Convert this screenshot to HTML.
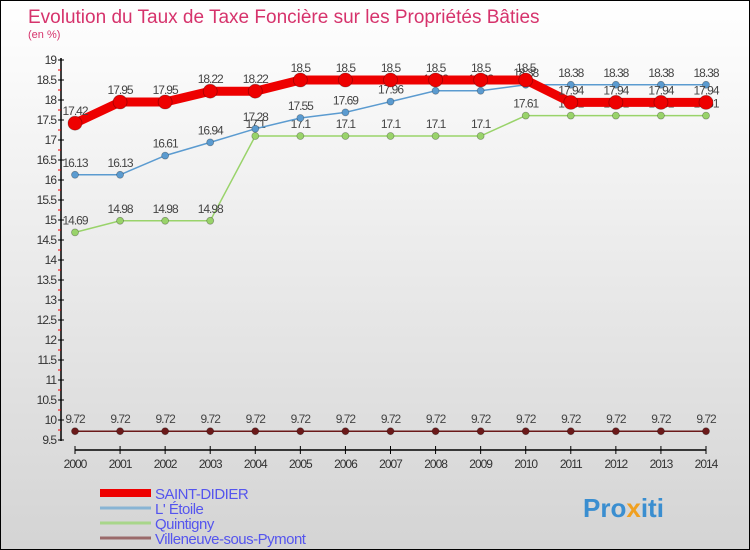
<!DOCTYPE html>
<html><head><meta charset="utf-8"><style>
body{margin:0}
#c{width:750px;height:550px;position:relative;overflow:hidden;background:linear-gradient(#ffffff,#d4d4d4);box-sizing:border-box;border:1px solid #000;font-family:"Liberation Sans",sans-serif}
svg text{font-family:"Liberation Sans",sans-serif}
</style></head><body>
<div id="c">
<svg id="s" width="750" height="550" style="position:absolute;left:-1px;top:-1px">
<text x="28" y="23" font-size="19" fill="#d6336c">Evolution du Taux de Taxe Foncière sur les Propriétés Bâties</text>
<text x="28" y="38" font-size="11" fill="#d6336c">(en %)</text>
</svg>
</div>
<script>
const years=[2000,2001,2002,2003,2004,2005,2006,2007,2008,2009,2010,2011,2012,2013,2014];
const saint=[17.42,17.95,17.95,18.22,18.22,18.5,18.5,18.5,18.5,18.5,18.5,17.94,17.94,17.94,17.94];
const etoile=[16.13,16.13,16.61,16.94,17.28,17.55,17.69,17.96,18.23,18.23,18.38,18.38,18.38,18.38,18.38];
const quint=[14.69,14.98,14.98,14.98,17.1,17.1,17.1,17.1,17.1,17.1,17.61,17.61,17.61,17.61,17.61];
const ville=[9.72,9.72,9.72,9.72,9.72,9.72,9.72,9.72,9.72,9.72,9.72,9.72,9.72,9.72,9.72];
const yMin=9.5,yMax=19;
const svg=document.getElementById('s');const NS='http://www.w3.org/2000/svg';
const X=i=>75+i*(706-75)/(years.length-1);
const Y=v=>440-(v-yMin)*(440-60)/(yMax-yMin);
function mk(t,a,p){const e=document.createElementNS(NS,t);for(const k in a)e.setAttribute(k,a[k]);(p||svg).appendChild(e);return e;}
let ax=mk('line',{x1:61,y1:58,x2:61,y2:441,stroke:'#000','stroke-width':1.5});


for(let v=yMin;v<=yMax+0.001;v+=0.5){
 const y=Y(v);
 mk('line',{x1:58,y1:y,x2:64,y2:y,stroke:'#000'});
 const t=mk('text',{x:56,y:y+4,'font-size':12,'text-anchor':'end',fill:'#333','letter-spacing':'-1'});
 t.textContent=String(+v.toFixed(1));
 
 
 if(v<yMax) mk('line',{x1:58,y1:Y(v+0.25),x2:61,y2:Y(v+0.25),stroke:'#e00'});
}
let xa=mk('line',{x1:75,y1:450,x2:706,y2:450,stroke:'#000','stroke-width':1.5});


years.forEach((yr,i)=>{
 mk('line',{x1:X(i),y1:446,x2:X(i),y2:454,stroke:'#000'});
 const t=mk('text',{x:X(i),y:468,'font-size':12,'text-anchor':'middle',fill:'#333','letter-spacing':'-1'});
 t.textContent=yr;
 
 
});
function series(d,col,w,r,name){
 const g=mk('g',{});
 
 
 mk('polyline',{points:d.map((v,i)=>X(i)+','+Y(v)).join(' '),fill:'none',stroke:col,'stroke-width':w},g);
 d.forEach((v,i)=>{
  const c=mk('circle',{cx:X(i),cy:Y(v),r:r,fill:col,stroke:'rgba(0,0,0,0.3)','stroke-width':0.8},g);
  
  
  const t=mk('text',{x:X(i),y:Y(v)-8,'font-size':12,'text-anchor':'middle',fill:'#444','letter-spacing':'-1'},g);
  t.textContent=String(v);
  
  
 });
}
series(ville,'#6b1a1a',1.5,3.5,'series-villeneuve');
series(quint,'#99d36a',1.5,3.5,'series-quintigny');
series(etoile,'#5b9bd0',1.5,3.5,'series-etoile');
series(saint,'#ee0000',9,7,'series-saint-didier');
const leg=[['SAINT-DIDIER','#ee0000',8],["L' Étoile",'#88b4d4',3],['Quintigny','#a8d68a',3],['Villeneuve-sous-Pymont','#9a6a6a',3]];
leg.forEach((l,i)=>{
 const y=493+i*15;
 const g=mk('g',{});
 
 
 mk('line',{x1:100,y1:y,x2:151,y2:y,stroke:l[1],'stroke-width':l[2]},g);
 const t=mk('text',{x:155,y:y+6,'font-size':15,fill:'#5555ee','letter-spacing':'-0.5'},g);
 t.textContent=l[0];
});
const lg=mk('text',{x:583,y:517,'font-size':26,'font-weight':'bold',fill:'#3a8ed0'});


lg.innerHTML='Pro<tspan fill="#f0a020">x</tspan>iti';
</script>
</body></html>
